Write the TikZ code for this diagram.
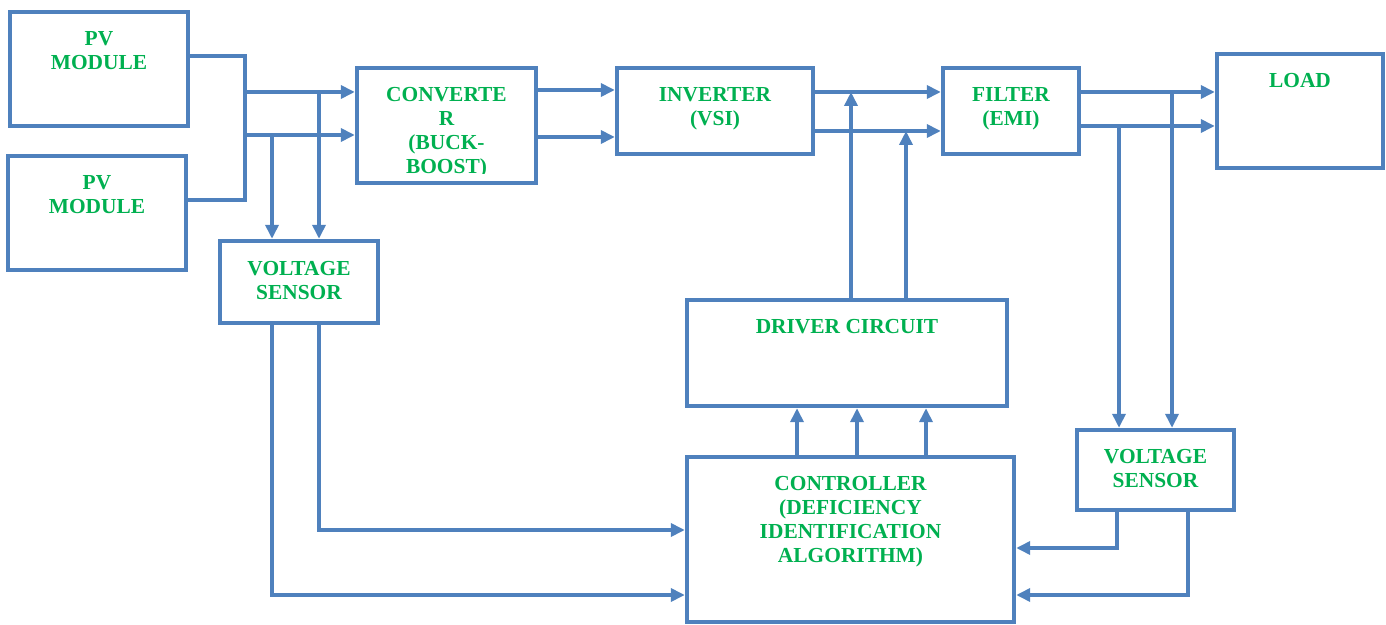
\documentclass[tikz,border=0pt]{standalone}
\usepackage{fontspec}
\setmainfont{Liberation Serif}
\usepackage{tikz}
\usetikzlibrary{arrows.meta,positioning}
\definecolor{boxblue}{HTML}{4F81BD}
\definecolor{txtgreen}{HTML}{00B050}

\begin{document}
\begin{tikzpicture}[x=0.5pt,y=-0.5pt,
  block/.style={draw=boxblue,line width=2.2pt,inner sep=0pt},
  lbl/.style={text=txtgreen,font=\bfseries\fontsize{10.7}{12}\selectfont,align=center,inner sep=0pt},
  wire/.style={draw=boxblue,line width=2pt},
  arr/.style={wire,-{Triangle[length=7pt,width=6.5pt]}}]

  \useasboundingbox (0,0) rectangle (1386,625);

  \node[block,minimum width=89pt,minimum height=57pt] (pv1) at (99,69) {};
  \node[block,minimum width=89pt,minimum height=57pt] (pv2) at (97,213) {};
  \node[block,minimum width=89.5pt,minimum height=57.5pt] (conv) at (446.5,125.5) {};
  \node[block,minimum width=79pt,minimum height=41pt] (vs1) at (299,282) {};
  \node[block,minimum width=98pt,minimum height=43pt] (inv) at (715,111) {};
  \node[block,minimum width=68pt,minimum height=43pt] (filt) at (1011,111) {};
  \node[block,minimum width=83pt,minimum height=57pt] (load) at (1300,111) {};
  \node[block,minimum width=160pt,minimum height=53pt] (drv) at (847,353) {};
  \node[block,minimum width=163.5pt,minimum height=82.5pt] (ctrl) at (850.5,539.5) {};
  \node[block,minimum width=78.5pt,minimum height=40pt] (vs2) at (1155.5,470) {};

  \node[lbl,below=10.5pt of pv1.north] (pv1t) {PV\\MODULE};
  \node[lbl,below=10.5pt of pv2.north] (pv2t) {PV\\MODULE};
  \begin{scope}
    \clip (conv.north west) rectangle ([yshift=6pt]conv.south east);
    \node[lbl,below=10.5pt of conv.north] (convt) {CONVERTE\\R\\(BUCK-\\BOOST)};
  \end{scope}
  \node[lbl,below=11pt of vs1.north] (vs1t) {VOLTAGE\\SENSOR};
  \node[lbl,below=10.5pt of inv.north] (invt) {INVERTER\\(VSI)};
  \node[lbl,below=10.5pt of filt.north] (filtt) {FILTER\\(EMI)};
  \node[lbl,below=10.5pt of load.north] (loadt) {LOAD};
  \node[lbl,below=10.5pt of drv.north] (drvt) {DRIVER CIRCUIT};
  \node[lbl,below=10.5pt of ctrl.north] (ctrlt) {CONTROLLER\\(DEFICIENCY\\IDENTIFICATION\\ALGORITHM)};
  \node[lbl,below=10.5pt of vs2.north] (vs2t) {VOLTAGE\\SENSOR};

  \coordinate (bt) at (245,56);
  \coordinate (bb) at (245,200);
  \coordinate (in1) at (245,92);
  \coordinate (in2) at (245,135);
  \coordinate (t1) at (319,92);
  \coordinate (t2) at (272,135);
  \coordinate (c1) at (687,530);
  \coordinate (c2) at (687,595);
  \draw[wire] (pv1.east |- bt) -- (bt) -- (bb) -- (pv2.east |- bb);
  \draw[arr] (in1) -- (in1 -| conv.west);
  \draw[arr] (in2) -- (in2 -| conv.west);
  \draw[arr] (t1) -- (t1 |- vs1.north);
  \draw[arr] (t2) -- (t2 |- vs1.north);
  \draw[arr] (t1 |- vs1.south) |- (c1 -| ctrl.west);
  \draw[arr] (t2 |- vs1.south) |- (c2 -| ctrl.west);

  \coordinate (o1) at (536,90);
  \coordinate (o2) at (536,137);
  \coordinate (f1) at (813,92);
  \coordinate (f2) at (813,131);
  \draw[arr] (o1 -| conv.east) -- (o1 -| inv.west);
  \draw[arr] (o2 -| conv.east) -- (o2 -| inv.west);
  \draw[arr] (f1 -| inv.east) -- (f1 -| filt.west);
  \draw[arr] (f2 -| inv.east) -- (f2 -| filt.west);

  \coordinate (d1) at (851,92);
  \coordinate (d2) at (906,131);
  \draw[arr] (d1 |- drv.north) -- (d1);
  \draw[arr] (d2 |- drv.north) -- (d2);
  \foreach \x in {797,857,926}
    \draw[arr] (\x,0 |- ctrl.north) -- (\x,0 |- drv.south);

  \coordinate (l1) at (1079,92);
  \coordinate (l2) at (1079,126);
  \coordinate (s1) at (1172,92);
  \coordinate (s2) at (1119,126);
  \coordinate (r1) at (1117,548);
  \coordinate (r2) at (1188,595);
  \draw[arr] (l1 -| filt.east) -- (l1 -| load.west);
  \draw[arr] (l2 -| filt.east) -- (l2 -| load.west);
  \draw[arr] (s1) -- (s1 |- vs2.north);
  \draw[arr] (s2) -- (s2 |- vs2.north);
  \draw[arr] (r1 |- vs2.south) |- (r1 -| ctrl.east);
  \draw[arr] (r2 |- vs2.south) |- (r2 -| ctrl.east);

\end{tikzpicture}
\end{document}
